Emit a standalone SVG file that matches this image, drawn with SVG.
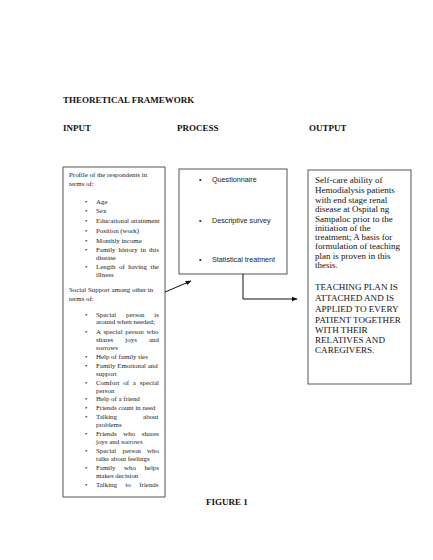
<svg xmlns="http://www.w3.org/2000/svg" width="433" height="560" viewBox="0 0 433 560">
<style>
.h{font-family:"Liberation Serif",serif;font-weight:bold;font-size:9px;fill:#111}
.s{font-family:"Liberation Serif",serif;font-size:6.9px;fill:#222}
.p{font-family:"Liberation Sans",sans-serif;font-size:7.2px;fill:#222}
.o{font-family:"Liberation Serif",serif;font-size:9px;fill:#111}
.u{font-family:"Liberation Serif",serif;font-size:9.1px;fill:#111}
.box{fill:#fff;stroke:#555;stroke-width:1}
.ln{fill:none;stroke:#111;stroke-width:1}
</style>
<defs>
<marker id="ah" viewBox="0 0 10 10" refX="9" refY="5" markerWidth="6" markerHeight="6" orient="auto" markerUnits="userSpaceOnUse">
<path d="M0,1 L10,5 L0,9 z" fill="#111"/>
</marker>
</defs>
<rect width="433" height="560" fill="#fff"/>
<g id="titles">
<text class="h" x="63" y="103">THEORETICAL FRAMEWORK</text>
<text class="h" x="63" y="131">INPUT</text>
<text class="h" x="177" y="131">PROCESS</text>
<text class="h" x="309" y="131">OUTPUT</text>
<text class="h" x="206" y="505">FIGURE 1</text>
</g>
<g id="input">
<rect class="box" x="63" y="167" width="102" height="330"/>
<text class="s" x="69" y="177">Profile of the respondents in</text>
<text class="s" x="69" y="186">terms of:</text>
<g class="s">
<text x="85" y="204">•</text><text x="96" y="204">Age</text>
<text x="85" y="213">•</text><text x="96" y="213">Sex</text>
<text x="85" y="223">•</text><text x="96" y="223">Educational attainment</text>
<text x="85" y="233">•</text><text x="96" y="233">Position (work)</text>
<text x="85" y="243">•</text><text x="96" y="243">Monthly income</text>
<text x="85" y="252">•</text><text x="96" y="252" word-spacing="1.25">Family history in this</text>
<text x="96" y="260">disease</text>
<text x="85" y="269">•</text><text x="96" y="269" word-spacing="1.77">Length of having the</text>
<text x="96" y="277">illness</text>
</g>
<text class="s" x="69" y="292">Social Support among other in</text>
<text class="s" x="69" y="301">terms of:</text>
<g class="s">
<text x="85" y="317">•</text><text x="96" y="317" word-spacing="8.1">Special person is</text>
<text x="96" y="324">around when needed;</text>
<text x="85" y="334">•</text><text x="96" y="334" word-spacing="1.1">A special person who</text>
<text x="96" y="342" word-spacing="10.4">shares joys and</text>
<text x="96" y="350">sorrows</text>
<text x="85" y="359">•</text><text x="96" y="359">Help of family ties</text>
<text x="85" y="368">•</text><text x="96" y="368">Family Emotional and</text>
<text x="96" y="376">support</text>
<text x="85" y="385">•</text><text x="96" y="385" word-spacing="2.16">Comfort of a special</text>
<text x="96" y="393">person</text>
<text x="85" y="401">•</text><text x="96" y="401">Help of a friend</text>
<text x="85" y="410">•</text><text x="96" y="410">Friends count in need</text>
<text x="85" y="419">•</text><text x="96" y="419" word-spacing="24.4">Talking about</text>
<text x="96" y="427">problems</text>
<text x="85" y="436">•</text><text x="96" y="436" word-spacing="4.86">Friends who shares</text>
<text x="96" y="444">joys and sorrows</text>
<text x="85" y="453">•</text><text x="96" y="453" word-spacing="4.48">Special person who</text>
<text x="96" y="461">talks about feelings</text>
<text x="85" y="470">•</text><text x="96" y="470" word-spacing="6.77">Family who helps</text>
<text x="96" y="478">makes decision</text>
<text x="85" y="487">•</text><text x="96" y="487" word-spacing="6.78">Talking to friends</text>
</g>
</g>
<g id="process">
<rect class="box" x="179" y="169" width="108" height="105"/>
<g class="p">
<text x="199" y="182">•</text><text x="212" y="182">Questionnaire</text>
<text x="199" y="223">•</text><text x="212" y="223">Descriptive survey</text>
<text x="199" y="262">•</text><text x="212" y="262">Statistical treatment</text>
</g>
</g>
<g id="output">
<rect class="box" x="308" y="170" width="103" height="214"/>
<g class="o">
<text x="315" y="183">Self-care ability of</text>
<text x="315" y="193">Hemodialysis patients</text>
<text x="315" y="203">with end stage renal</text>
<text x="315" y="212">disease at Ospital ng</text>
<text x="315" y="222">Sampaloc prior to the</text>
<text x="315" y="231">initiation of the</text>
<text x="315" y="240">treatment; A basis for</text>
<text x="315" y="249">formulation of teaching</text>
<text x="315" y="259">plan is proven in this</text>
<text x="315" y="268">thesis.</text>
</g>
<g class="u">
<text x="315" y="290">TEACHING PLAN IS</text>
<text x="315" y="301">ATTACHED AND IS</text>
<text x="315" y="312">APPLIED TO EVERY</text>
<text x="315" y="323">PATIENT TOGETHER</text>
<text x="315" y="333">WITH THEIR</text>
<text x="315" y="343">RELATIVES AND</text>
<text x="315" y="353">CAREGIVERS.</text>
</g>
</g>
<g id="connectors">
<line class="ln" x1="165" y1="292" x2="191" y2="281" marker-end="url(#ah)"/>
<polyline class="ln" points="243,274 243,299 297,299" marker-end="url(#ah)"/>
</g>
</svg>
